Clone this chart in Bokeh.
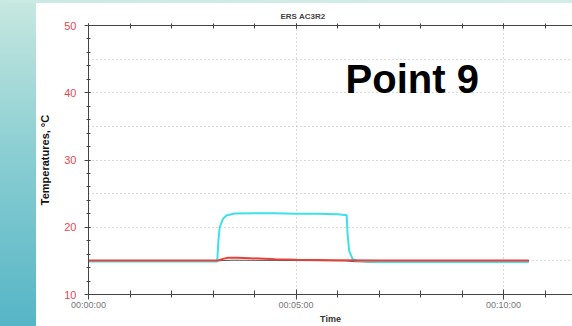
from bokeh.plotting import figure
from bokeh.models import SingleIntervalTicker, FixedTicker, LinearAxis, Label, Div, Range1d, Title
from bokeh.layouts import column, row
from bokeh.embed import file_html
from bokeh.resources import INLINE

# ---- data (time in minutes, temperature in °C) ----
cyan_t = [0.0, 1.0, 2.0, 3.0, 3.10, 3.13, 3.16, 3.24, 3.32, 3.52, 4.0, 4.5, 5.0, 5.5, 6.0, 6.22, 6.24, 6.28, 6.36, 6.48, 7.0, 8.0, 9.0, 10.0, 10.61]
cyan_v = [14.9, 14.9, 14.9, 14.9, 14.9, 18.0, 20.0, 21.25, 21.75, 22.05, 22.1, 22.1, 22.0, 22.0, 21.95, 21.8, 19.1, 16.5, 15.3, 15.0, 14.85, 14.85, 14.85, 14.85, 14.85]

red_t = [0.0, 1.0, 2.0, 3.0, 3.12, 3.24, 3.36, 3.6, 3.88, 4.5, 5.0, 6.0, 7.0, 8.0, 9.0, 10.0, 10.61]
red_v = [15.05, 15.05, 15.05, 15.05, 15.05, 15.3, 15.45, 15.45, 15.4, 15.25, 15.15, 15.1, 15.05, 15.05, 15.05, 15.05, 15.05]

dark_t = [0.0, 3.0, 3.5, 5.0, 6.2, 6.4, 6.8, 7.3, 8.0, 10.61]
dark_v = [15.0, 15.0, 15.1, 15.05, 15.0, 14.88, 14.82, 14.86, 14.95, 14.95]

x_tick_values = [0, 5, 10]
x_tick_labels = ["00:00:00", "00:05:00", "00:10:00"]

FONT = "Liberation Sans"

p = figure(width=536, height=323, title=None,
           x_range=Range1d(0, 11.66), y_range=Range1d(10, 50),
           output_backend="svg", toolbar_location=None,
           min_border_left=51, min_border_right=0,
           min_border_top=22, min_border_bottom=32)
p.background_fill_color = "white"
p.border_fill_color = "white"
p.outline_line_color = None

# grids
p.xgrid.ticker = FixedTicker(ticks=[5, 10])
p.ygrid.ticker = SingleIntervalTicker(interval=5)
for g in (p.xgrid, p.ygrid):
    g.grid_line_color = "#b4b4b4"
    g.grid_line_dash = "1 3"
    g.grid_line_width = 1

# x axis
xa = p.xaxis[0]
xa.ticker = SingleIntervalTicker(interval=5, num_minor_ticks=5)
xa.major_label_overrides = {v: s for v, s in zip(x_tick_values, x_tick_labels)}
xa.major_label_text_font = FONT
xa.major_label_text_font_size = "9px"
xa.major_label_text_color = "#777777"
xa.major_label_standoff = 0
xa.axis_label = "Time"
xa.axis_label_text_font = FONT
xa.axis_label_text_font_size = "9px"
xa.axis_label_text_font_style = "bold"
xa.axis_label_text_color = "#333333"
xa.axis_label_standoff = 1
xa.axis_line_color = "#444444"
xa.major_tick_line_color = "#444444"
xa.minor_tick_line_color = "#444444"
xa.major_tick_in = 5
xa.major_tick_out = 5
xa.minor_tick_in = 4
xa.minor_tick_out = 3

# y axis
ya = p.yaxis[0]
ya.ticker = SingleIntervalTicker(interval=10, num_minor_ticks=5)
ya.major_label_text_font = FONT
ya.major_label_text_font_size = "11px"
ya.major_label_text_color = "#e8474f"
ya.major_label_standoff = 8
ya.axis_label = "Temperatures, °C"
ya.axis_label_text_font = FONT
ya.axis_label_text_font_size = "11px"
ya.axis_label_text_font_style = "bold"
ya.axis_label_text_color = "#111111"
ya.axis_label_standoff = 10
ya.axis_line_color = "#444444"
ya.major_tick_line_color = "#444444"
ya.minor_tick_line_color = "#444444"
ya.major_tick_in = 2
ya.major_tick_out = 4
ya.minor_tick_in = 2
ya.minor_tick_out = 2

# top axis (frame line with ticks, no labels)
top = LinearAxis(ticker=SingleIntervalTicker(interval=5, num_minor_ticks=5),
                 major_label_text_color=None, major_label_text_font_size="1px",
                 major_label_standoff=0,
                 axis_line_color="#444444", major_tick_line_color="#444444",
                 minor_tick_line_color="#444444",
                 major_tick_in=3, major_tick_out=2, minor_tick_in=3, minor_tick_out=2)
p.add_layout(top, "above")
p.add_layout(Title(text="ERS AC3R2", align="left", offset=192, standoff=6,
                   text_font=FONT, text_font_size="8px", text_font_style="bold",
                   text_color="#444444"), "above")

# series
p.line(dark_t, dark_v, line_color="#555555", line_width=1)
p.line(cyan_t, cyan_v, line_color="#3ee0ea", line_width=2)
p.line(red_t, red_v, line_color="#e8403a", line_width=2)

# annotation
p.add_layout(Label(x=7.80, y=42.1, text="Point 9", text_align="center",
                   text_baseline="middle", text_font=FONT, text_font_size="40px",
                   text_font_style="bold", text_color="#000000"))

top_strip = Div(text="", width=572, height=3, margin=0,
                styles={"background": "linear-gradient(to right, #cbe9e3, #d3eee6)"})
left_strip = Div(text="", width=36, height=323, margin=0,
                 styles={"background": "linear-gradient(to bottom, #c6e7e0, #8ccfd3 45%, #55b5c6)"})

layout = column(top_strip, row(left_strip, p, spacing=0), spacing=0)

open("out.html", "w").write(file_html(layout, INLINE))
